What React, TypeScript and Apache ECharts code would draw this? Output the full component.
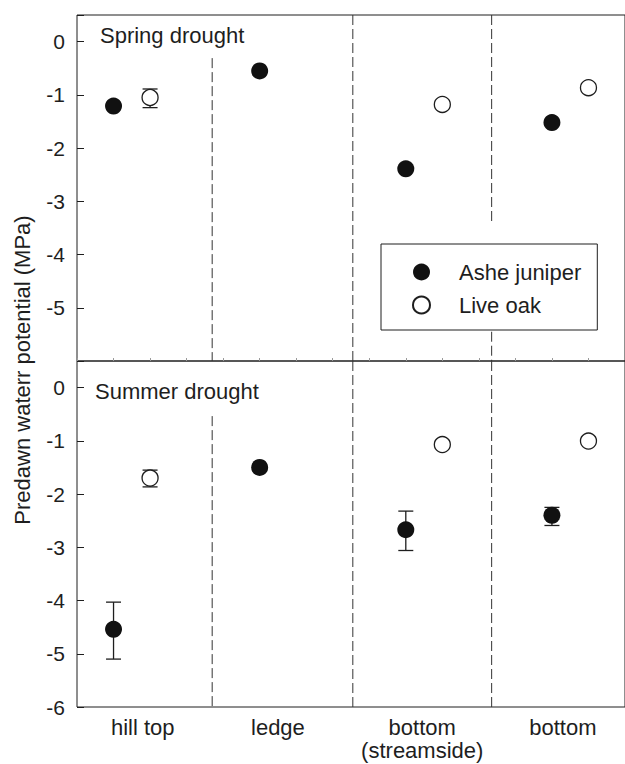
import React, { useEffect, useRef } from "react";
import * as echarts from "echarts";

// ---- data ----
const categories = ["hill top", "ledge", "bottom\n(streamside)", "bottom"];
const categoryLabelPos = [1.8, 5.5, 9.45, 13.3];
const juniperX = [1, 5, 9, 13];
const oakX = [2, 6, 10, 14];

const springJuniper = [-1.21, -0.55, -2.39, -1.52];
const springOak = [-1.05, null, -1.18, -0.865];
const springJuniperErr: (number[] | null)[] = [null, null, null, null];
const springOakErr: (number[] | null)[] = [[-1.24, -0.89], null, null, null];

const summerJuniper = [-4.54, -1.5, -2.67, -2.4];
const summerOak = [-1.7, null, -1.07, -1.005];
const summerJuniperErr: (number[] | null)[] = [
  [-5.1, -4.03],
  [-1.56, -1.45],
  [-3.06, -2.32],
  [-2.59, -2.25],
];
const summerOakErr: (number[] | null)[] = [[-1.865, -1.55], null, [-1.13, -1.02], null];

// dashed site dividers: [x, yTop, yBottom]
const springDividers = [
  [3.7, -0.31, -6],
  [7.55, 0.5, -6],
  [11.35, 0.5, -3.38],
  [11.35, -5.45, -6],
];
const summerDividers = [
  [3.7, -0.535, -6],
  [7.55, 0.5, -6],
  [11.35, 0.5, -6],
];

const yTicks = [0, -1, -2, -3, -4, -5, -6];

const FONT = '"Liberation Sans", Arial, Helvetica, sans-serif';
const INK = "#1e1e1e";

function pts(xs: number[], ys: (number | null)[]) {
  const out: number[][] = [];
  xs.forEach((x, i) => {
    const y = ys[i];
    if (y !== null && y !== undefined) out.push([x, y]);
  });
  return out;
}

function errRows(xs: number[], errs: (number[] | null)[]) {
  const out: number[][] = [];
  xs.forEach((x, i) => {
    const e = errs[i];
    if (e) out.push([x, e[0], e[1]]);
  });
  return out;
}

const dividerRender = (params: any, api: any) => {
  const x = api.value(0);
  const p1 = api.coord([x, api.value(1)]);
  const p2 = api.coord([x, api.value(2)]);
  return {
    type: "line",
    shape: { x1: p1[0], y1: p1[1], x2: p2[0], y2: p2[1] },
    style: { stroke: "#333", lineWidth: 1, lineDash: [10, 4] },
    silent: true,
  };
};

const errRender = (params: any, api: any) => {
  const x = api.value(0);
  const lo = api.coord([x, api.value(1)]);
  const hi = api.coord([x, api.value(2)]);
  const hw = 7.5;
  const style = { stroke: INK, lineWidth: 1.3 };
  return {
    type: "group",
    children: [
      { type: "line", shape: { x1: lo[0], y1: lo[1], x2: hi[0], y2: hi[1] }, style },
      { type: "line", shape: { x1: lo[0] - hw, y1: lo[1], x2: lo[0] + hw, y2: lo[1] }, style },
      { type: "line", shape: { x1: hi[0] - hw, y1: hi[1], x2: hi[0] + hw, y2: hi[1] }, style },
    ],
  };
};

export default function App() {
  const ref = useRef<HTMLDivElement>(null);

  useEffect(() => {
    if (!ref.current) return;
    const chart = echarts.init(ref.current, undefined, { renderer: "svg" });

    const yAxisBase = (gridIndex: number, hideBottom: boolean) => ({
      type: "value",
      gridIndex,
      min: -6,
      max: 0.5,
      interval: 1,
      axisLine: { show: false, onZero: false },
      axisTick: { show: true, inside: true, length: 7, lineStyle: { color: INK, width: 1 } },
      axisLabel: {
        show: true,
        margin: 12,
        fontSize: 21,
        fontFamily: FONT,
        color: INK,
        formatter: (v: number) =>
          yTicks.includes(v) && !(hideBottom && v === -6) ? String(v) : "",
      },
      splitLine: { show: false },
    });

    const juniperStyle = { color: "#111", opacity: 1 };
    const oakStyle = { color: "#fff", borderColor: INK, borderWidth: 1.3, opacity: 1 };

    chart.setOption({
      animation: false,
      backgroundColor: "#fff",
      textStyle: { fontFamily: FONT },
      grid: [
        { left: 77, right: -2, top: 15, height: 346, show: true, borderColor: INK, borderWidth: 1, backgroundColor: "transparent" },
        { left: 77, right: -2, top: 361, height: 346, show: true, borderColor: INK, borderWidth: 1, backgroundColor: "transparent" },
      ],
      xAxis: [
        {
          type: "value",
          gridIndex: 0,
          position: "bottom",
          min: 0,
          max: 15,
          interval: 1,
          axisLine: { show: false, onZero: false },
          axisTick: { show: true, inside: true, length: 3, lineStyle: { color: "#9a9a9a", width: 1 } },
          axisLabel: { show: false },
          splitLine: { show: false },
        },
        {
          type: "value",
          gridIndex: 1,
          position: "bottom",
          min: 0,
          max: 15,
          interval: 1,
          axisLine: { show: false, onZero: false },
          axisTick: { show: false },
          axisLabel: {
            show: true,
            customValues: categoryLabelPos,
            margin: 9,
            fontSize: 22,
            lineHeight: 23,
            fontFamily: FONT,
            color: INK,
            formatter: (v: number) => {
              const i = categoryLabelPos.findIndex((p) => Math.abs(p - v) < 1e-6);
              return i >= 0 ? categories[i] : "";
            },
          },
          splitLine: { show: false },
        },
      ],
      yAxis: [yAxisBase(0, true), yAxisBase(1, false)],
      legend: {
        data: ["Ashe juniper", "Live oak"],
        orient: "vertical",
        left: 381,
        top: 244,
        padding: [17, 16, 14, 31],
        itemGap: 11,
        itemWidth: 17,
        itemHeight: 17,
        borderColor: INK,
        borderWidth: 1,
        backgroundColor: "#fff",
        selectedMode: false,
        textStyle: { fontSize: 22, fontFamily: FONT, color: INK, lineHeight: 20, padding: [0, 0, 0, 24] },
      },
      graphic: [
        {
          type: "text",
          x: 100,
          y: 35,
          style: { text: "Spring drought", font: `22px ${FONT}`, fill: INK, verticalAlign: "middle", align: "left" },
        },
        {
          type: "text",
          x: 95,
          y: 391.5,
          style: { text: "Summer drought", font: `22px ${FONT}`, fill: INK, verticalAlign: "middle", align: "left" },
        },
        {
          type: "text",
          x: 22,
          y: 370,
          rotation: Math.PI / 2,
          style: {
            text: "Predawn waterr potential (MPa)",
            font: `22px ${FONT}`,
            fill: INK,
            verticalAlign: "middle",
            align: "center",
          },
        },
      ],
      series: [
        { type: "custom", name: "div1", xAxisIndex: 0, yAxisIndex: 0, data: springDividers, renderItem: dividerRender, z: 1, silent: true },
        { type: "custom", name: "div2", xAxisIndex: 1, yAxisIndex: 1, data: summerDividers, renderItem: dividerRender, z: 1, silent: true },
        { type: "custom", name: "err1", xAxisIndex: 0, yAxisIndex: 0, data: errRows(oakX, springOakErr).concat(errRows(juniperX, springJuniperErr)), renderItem: errRender, z: 2, silent: true },
        { type: "custom", name: "err2", xAxisIndex: 1, yAxisIndex: 1, data: errRows(oakX, summerOakErr).concat(errRows(juniperX, summerJuniperErr)), renderItem: errRender, z: 2, silent: true },
        { type: "scatter", name: "Ashe juniper", xAxisIndex: 0, yAxisIndex: 0, data: pts(juniperX, springJuniper), symbol: "circle", symbolSize: 17, itemStyle: juniperStyle, z: 3 },
        { type: "scatter", name: "Live oak", xAxisIndex: 0, yAxisIndex: 0, data: pts(oakX, springOak), symbol: "circle", symbolSize: 16, itemStyle: oakStyle, z: 3 },
        { type: "scatter", name: "Ashe juniper", xAxisIndex: 1, yAxisIndex: 1, data: pts(juniperX, summerJuniper), symbol: "circle", symbolSize: 17, itemStyle: juniperStyle, z: 3 },
        { type: "scatter", name: "Live oak", xAxisIndex: 1, yAxisIndex: 1, data: pts(oakX, summerOak), symbol: "circle", symbolSize: 16, itemStyle: oakStyle, z: 3 },
      ],
    });

    return () => chart.dispose();
  }, []);

  return (
    <div
      ref={ref}
      style={{ position: "fixed", left: 0, top: 0, width: 625, height: 764, background: "#fff" }}
    />
  );
}
